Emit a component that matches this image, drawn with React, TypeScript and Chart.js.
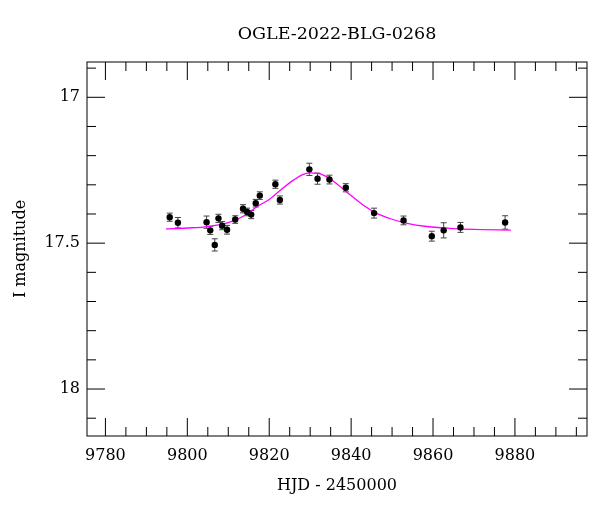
import { useEffect, useRef } from "react";
import { Chart, registerables } from "chart.js";

Chart.register(...registerables);

const TITLE = "OGLE-2022-BLG-0268";
const X_LABEL = "HJD - 2450000";
const Y_LABEL = "I magnitude";

// Observations (HJD - 2450000, I mag, error)
const OBS_HJD = [
  9795.7, 9797.7, 9804.7, 9805.6, 9806.7, 9807.6, 9808.5, 9809.7, 9811.7, 9813.6,
  9814.6, 9815.6, 9816.7, 9817.7, 9821.5, 9822.6, 9829.8, 9831.8, 9834.7, 9838.7,
  9845.6, 9852.8, 9859.7, 9862.6, 9866.7, 9877.6,
];
const OBS_MAG = [
  17.411, 17.43, 17.428, 17.456, 17.506, 17.415, 17.44, 17.454, 17.419, 17.382,
  17.393, 17.402, 17.363, 17.337, 17.298, 17.352, 17.247, 17.279, 17.282, 17.31,
  17.397, 17.422, 17.476, 17.456, 17.446, 17.429,
];
const OBS_ERR = [
  0.014, 0.018, 0.021, 0.014, 0.021, 0.014, 0.014, 0.015, 0.013, 0.014,
  0.013, 0.014, 0.013, 0.013, 0.014, 0.014, 0.021, 0.019, 0.015, 0.014,
  0.017, 0.015, 0.017, 0.026, 0.017, 0.023,
];

// Model curve
const MODEL_HJD = [
  9794.8, 9800, 9805, 9810, 9814, 9817, 9820, 9823, 9826, 9828, 9830, 9832,
  9834, 9836, 9838, 9840, 9843, 9846, 9850, 9854, 9858, 9864, 9870, 9879,
];
const MODEL_MAG = [
  17.451, 17.448, 17.443, 17.43, 17.405, 17.375, 17.35, 17.315, 17.283, 17.266, 17.259, 17.261,
  17.272, 17.291, 17.314, 17.337, 17.37, 17.396, 17.418, 17.433, 17.442, 17.449, 17.453, 17.455,
];

const X_TICKS = [9780, 9800, 9820, 9840, 9860, 9880];
const Y_TICKS = [17, 17.5, 18];
const X_MIN = 9775.5;
const X_MAX = 9897.6;
const Y_MIN = 16.879;
const Y_MAX = 18.161;
const X_MINOR_STEP = 5;
const Y_MINOR_STEP = 0.1;

const FONT = "'DejaVu Serif', serif";

const errorBarPlugin = {
  id: "errorBars",
  beforeDatasetsDraw(chart: any) {
    const { ctx, scales } = chart;
    const x = scales.x;
    const y = scales.y;
    ctx.save();
    ctx.lineWidth = 1;
    ctx.strokeStyle = "#444";
    for (let i = 0; i < OBS_HJD.length; i++) {
      const px = x.getPixelForValue(OBS_HJD[i]);
      const y1 = y.getPixelForValue(OBS_MAG[i] - OBS_ERR[i]);
      const y2 = y.getPixelForValue(OBS_MAG[i] + OBS_ERR[i]);
      ctx.beginPath();
      ctx.moveTo(px, y1);
      ctx.lineTo(px, y2);
      ctx.moveTo(px - 3, y1);
      ctx.lineTo(px + 3, y1);
      ctx.moveTo(px - 3, y2);
      ctx.lineTo(px + 3, y2);
      ctx.stroke();
    }
    ctx.restore();
  },
};

const framePlugin = {
  id: "frameTicks",
  afterDatasetsDraw(chart: any) {
    const { ctx, chartArea: a, scales } = chart;
    const x = scales.x;
    const y = scales.y;
    const MAJ = 18;
    const MIN = 9;
    ctx.save();
    ctx.strokeStyle = "#000";
    ctx.lineWidth = 1;
    ctx.strokeRect(a.left, a.top, a.right - a.left, a.bottom - a.top);
    ctx.beginPath();
    const kx0 = Math.ceil(X_MIN / X_MINOR_STEP - 1e-9);
    const kx1 = Math.floor(X_MAX / X_MINOR_STEP + 1e-9);
    for (let k = kx0; k <= kx1; k++) {
      const v = k * X_MINOR_STEP;
      const major = X_TICKS.some((t) => Math.abs(t - v) < 1e-6);
      const L = major ? MAJ : MIN;
      const px = x.getPixelForValue(v);
      ctx.moveTo(px, a.bottom);
      ctx.lineTo(px, a.bottom - L);
      ctx.moveTo(px, a.top);
      ctx.lineTo(px, a.top + L);
    }
    const ky0 = Math.ceil(Y_MIN / Y_MINOR_STEP - 1e-9);
    const ky1 = Math.floor(Y_MAX / Y_MINOR_STEP + 1e-9);
    for (let k = ky0; k <= ky1; k++) {
      const v = k * Y_MINOR_STEP;
      const major = Y_TICKS.some((t) => Math.abs(t - v) < 1e-6);
      const L = major ? MAJ : MIN;
      const py = y.getPixelForValue(v);
      ctx.moveTo(a.left, py);
      ctx.lineTo(a.left + L, py);
      ctx.moveTo(a.right, py);
      ctx.lineTo(a.right - L, py);
    }
    ctx.stroke();
    ctx.restore();
  },
};

export default function App() {
  const ref = useRef<HTMLCanvasElement | null>(null);

  useEffect(() => {
    if (!ref.current) return;
    const chart = new Chart(ref.current, {
      type: "scatter",
      data: {
        datasets: [
          {
            label: "data",
            data: OBS_HJD.map((h, i) => ({ x: h, y: OBS_MAG[i] })),
            pointRadius: 3.2,
            pointBackgroundColor: "#000",
            pointBorderColor: "#000",
            pointBorderWidth: 0,
            showLine: false,
          },
          {
            label: "model",
            type: "line",
            data: MODEL_HJD.map((h, i) => ({ x: h, y: MODEL_MAG[i] })),
            borderColor: "#ff00ff",
            borderWidth: 1.3,
            pointRadius: 0,
            fill: false,
            cubicInterpolationMode: "monotone",
          } as any,
        ],
      },
      options: {
        animation: false,
        responsive: false,
        layout: { padding: { left: 0, right: 13, top: 0, bottom: 0 } },
        plugins: {
          legend: { display: false },
          tooltip: { enabled: false },
          title: {
            display: true,
            text: TITLE,
            color: "#000",
            fullSize: false,
            font: { family: FONT, size: 17.5, weight: "normal" },
            padding: { top: 23.5, bottom: 17.5 },
          },
        },
        scales: {
          x: {
            type: "linear",
            min: X_MIN,
            max: X_MAX,
            afterBuildTicks: (s: any) => {
              s.ticks = X_TICKS.map((v) => ({ value: v }));
            },
            afterFit: (s: any) => {
              s.height = 76;
            },
            ticks: {
              color: "#000",
              padding: 10,
              maxRotation: 0,
              autoSkip: false,
              font: { family: FONT, size: 16 },
              callback: (v: any) => String(v),
            },
            grid: { display: false, drawTicks: false },
            border: { display: false },
            title: {
              display: true,
              text: X_LABEL,
              color: "#000",
              font: { family: FONT, size: 16 },
              padding: { top: 0, bottom: 16.4 },
            },
          },
          y: {
            type: "linear",
            reverse: true,
            min: Y_MIN,
            max: Y_MAX,
            afterBuildTicks: (s: any) => {
              s.ticks = Y_TICKS.map((v) => ({ value: v }));
            },
            afterFit: (s: any) => {
              s.width = 87;
            },
            ticks: {
              color: "#000",
              padding: 7,
              autoSkip: false,
              font: { family: FONT, size: 16 },
              callback: (v: any) => String(v),
            },
            grid: { display: false, drawTicks: false },
            border: { display: false },
            title: {
              display: true,
              text: Y_LABEL,
              color: "#000",
              font: { family: FONT, size: 16 },
              padding: { top: 11.4, bottom: 0 },
            },
          },
        },
      },
      plugins: [errorBarPlugin, framePlugin],
    });
    return () => chart.destroy();
  }, []);

  return (
    <div style={{ position: "absolute", left: 0, top: 0, width: 600, height: 512, background: "#fff" }}>
      <canvas ref={ref} width={600} height={512} style={{ display: "block" }} />
    </div>
  );
}
